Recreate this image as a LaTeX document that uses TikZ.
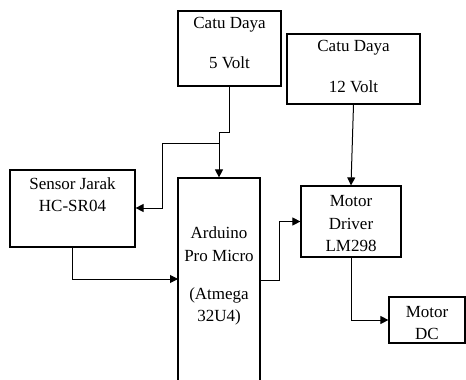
\documentclass[tikz,border=0pt]{standalone}
\usepackage{fontspec}
\setmainfont{Liberation Serif}
\newfontfamily\lblfont{Liberation Serif}
\usetikzlibrary{arrows.meta}
\begin{document}
\begin{tikzpicture}[x=1pt,y=-1pt,
  box/.style={draw,line width=1.2pt,inner sep=0pt,rectangle},
  lbl/.style={inner sep=0pt,font=\lblfont\fontsize{17}{20}\selectfont},
  arr/.style={line width=1pt,-{Triangle[length=8pt,width=8pt]}},
  wire/.style={line width=1pt}]
\useasboundingbox (0,0) rectangle (466,380);
\begin{scope}
\clip (0,0) rectangle (466,380);
\node[box,minimum width=103pt,minimum height=75pt] (c5) at (229.5,48.5) {};
\node[box,minimum width=133pt,minimum height=70pt] (c12) at (353.5,69) {};
\node[box,minimum width=125pt,minimum height=77pt] (sen) at (72.5,208.5) {};
\node[box,minimum width=82pt,minimum height=222pt] (ard) at (219,289) {};
\node[box,minimum width=100pt,minimum height=71pt] (drv) at (351,221.5) {};
\node[box,minimum width=76pt,minimum height=46pt] (dc) at (427,320) {};
\end{scope}
% labels
\node[lbl] (t1) at (229.5,25) {Catu Daya};
\node[lbl] (t2) at (229.5,63) {5 Volt};
\node[lbl] (t3) at (353.5,48) {Catu Daya};
\node[lbl] (t4) at (353.5,87) {12 Volt};
\node[lbl] (t5) at (72.5,184) {Sensor Jarak};
\node[lbl] (t6) at (72.5,206) {HC-SR04};
\node[lbl] (t7) at (219,233) {Arduino};
\node[lbl] (t8) at (219,256) {Pro Micro};
\node[lbl] (t9) at (219,295) {(Atmega};
\node[lbl] (t10) at (219,317) {32U4)};
\node[lbl] (t11) at (351,201) {Motor};
\node[lbl] (t12) at (351,224) {Driver};
\node[lbl] (t13) at (351,246) {LM298};
\node[lbl] (t14) at (427,312) {Motor};
\node[lbl] (t15) at (427,334) {DC};
% connectors
\coordinate (j1) at (219,132);
\coordinate (j2) at (219,143);
\coordinate (j3) at (162,208);
\coordinate (j4) at (178,279);
\coordinate (j5) at (260,280);
\coordinate (j6) at (279,280);
\draw[arr] (c5.south) |- (j1) -- (ard.north);
\draw[arr] (j2) -| (j3) -- (sen.east |- j3);
\draw[arr] (c12.south) -- (drv.north);
\draw[arr] (sen.south) |- (j4);
\draw[arr] (j5) -- (j6) |- (drv.west);
\draw[arr] (drv.south) |- (dc.west);
\end{tikzpicture}
\end{document}
